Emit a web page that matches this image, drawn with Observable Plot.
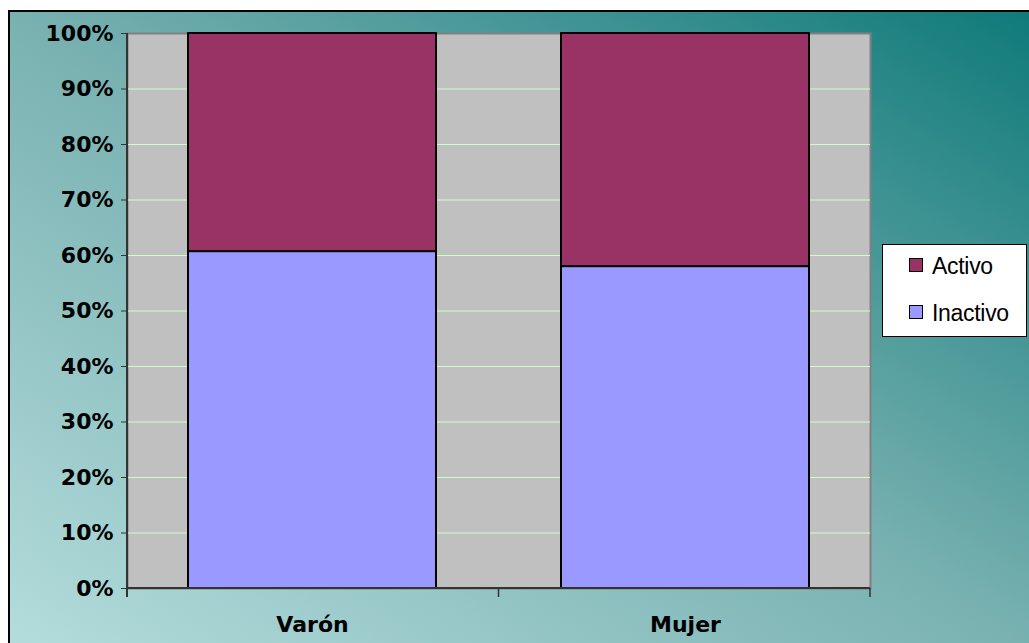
<!DOCTYPE html>
<html><head><meta charset="utf-8">
<script src="https://cdn.jsdelivr.net/npm/d3@7"></script>
<script src="https://cdn.jsdelivr.net/npm/@observablehq/plot@0.6"></script>
<style>
body{margin:0;background:#fff;}
#wrap{position:absolute;left:0;top:0;width:1029px;height:643px;overflow:hidden;background:#fff;}
#box{position:absolute;left:8px;top:10px;width:1021px;height:633px;box-sizing:border-box;border-left:2px solid #000;border-top:2px solid #000;
 background:linear-gradient(to top right,#b4dcdc 0%,#79b1b1 50%,#107a7a 100%);}
#chart{position:absolute;left:8px;top:10px;}
#legend{position:absolute;left:882px;top:244px;width:145px;height:93px;box-sizing:border-box;border:1px solid #000;background:#fff;font-family:"Liberation Sans",Arial,sans-serif;font-size:23px;color:#000;}
.item{position:absolute;left:26px;height:24px;line-height:24px;}
.sw{position:absolute;left:0;top:4px;width:12px;height:12px;border:1px solid #000;}
.lab{position:absolute;left:23px;top:0;white-space:nowrap;letter-spacing:-0.3px;}
</style></head>
<body>
<div id="wrap"><div id="box"></div><div id="chart"></div><div id="legend"></div></div>
<script>
const categories = ["Varón", "Mujer"];
const seriesNames = ["Inactivo", "Activo"];
const seriesColors = ["#9999ff", "#993366"];
const inactivoValues = [0.607, 0.580];
const activoValues = [0.393, 0.420];
const yTicks = [0, 0.1, 0.2, 0.3, 0.4, 0.5, 0.6, 0.7, 0.8, 0.9, 1.0];
const legendOrder = ["Activo", "Inactivo"];

const data = categories.flatMap((c, i) => [
  {cat: c, serie: "Inactivo", value: inactivoValues[i]},
  {cat: c, serie: "Activo", value: activoValues[i]}
]);

function axisLines(index, scales, values, dims) {
  const {width, marginLeft, marginRight} = dims;
  const x = scales.x, y = scales.y;
  const bw = typeof x.bandwidth === "function" ? x.bandwidth() : x.bandwidth;
  const xl = marginLeft, xr = width - marginRight;
  const y0 = y(0), y1 = y(1);
  const bounds = [xl];
  for (let i = 0; i < categories.length - 1; i++) {
    bounds.push((x(categories[i]) + bw + x(categories[i + 1])) / 2);
  }
  bounds.push(xr);
  const g = d3.create("svg:g").attr("stroke", "#333").attr("fill", "none");
  g.append("line").attr("x1", xl).attr("x2", xl).attr("y1", y1).attr("y2", y0 + 9).attr("stroke-width", 2);
  g.append("line").attr("x1", xl).attr("x2", xr).attr("y1", y0).attr("y2", y0).attr("stroke-width", 2);
  for (const b of bounds.slice(1)) {
    g.append("line").attr("x1", b).attr("x2", b).attr("y1", y0).attr("y2", y0 + 9).attr("stroke-width", 1.5);
  }
  return g.node();
}

const chart = Plot.plot({
  width: 1021, height: 633,
  marginLeft: 119, marginRight: 159, marginTop: 23, marginBottom: 55,
  style: {background: "transparent", overflow: "visible", color: "#000", fontFamily: "'DejaVu Sans', sans-serif", fontSize: "22px", fontWeight: "bold"},
  x: {domain: categories, paddingInner: 0.335, paddingOuter: 0.163},
  y: {domain: [0, 1]},
  color: {domain: seriesNames, range: seriesColors},
  marks: [
    Plot.frame({fill: "#c0c0c0", stroke: "#808080", strokeWidth: 2}),
    Plot.ruleY(yTicks.filter(v => v > 0 && v < 1), {stroke: "#ccffcc", strokeWidth: 1}),
    Plot.barY(data, {x: "cat", y: "value", fill: "serie", stroke: "#000", strokeWidth: 2}),
    axisLines,
    Plot.axisY({ticks: yTicks, tickFormat: d => Math.round(d * 100) + "%", tickSize: 6, tickPadding: 8, label: null, stroke: "#333", fontSize: 22, fontWeight: "bold"}),
    Plot.axisX({tickSize: 0, tickPadding: 28, label: null, fontSize: 22, fontWeight: "bold"})
  ]
});
document.getElementById("chart").appendChild(chart);

const legend = document.getElementById("legend");
legendOrder.forEach((name, i) => {
  const item = document.createElement("div");
  item.className = "item";
  item.style.top = (9 + i * 47) + "px";
  const sw = document.createElement("div");
  sw.className = "sw";
  sw.style.background = seriesColors[seriesNames.indexOf(name)];
  const lab = document.createElement("div");
  lab.className = "lab";
  lab.textContent = name;
  item.appendChild(sw); item.appendChild(lab);
  legend.appendChild(item);
});
</script>
</body></html>
